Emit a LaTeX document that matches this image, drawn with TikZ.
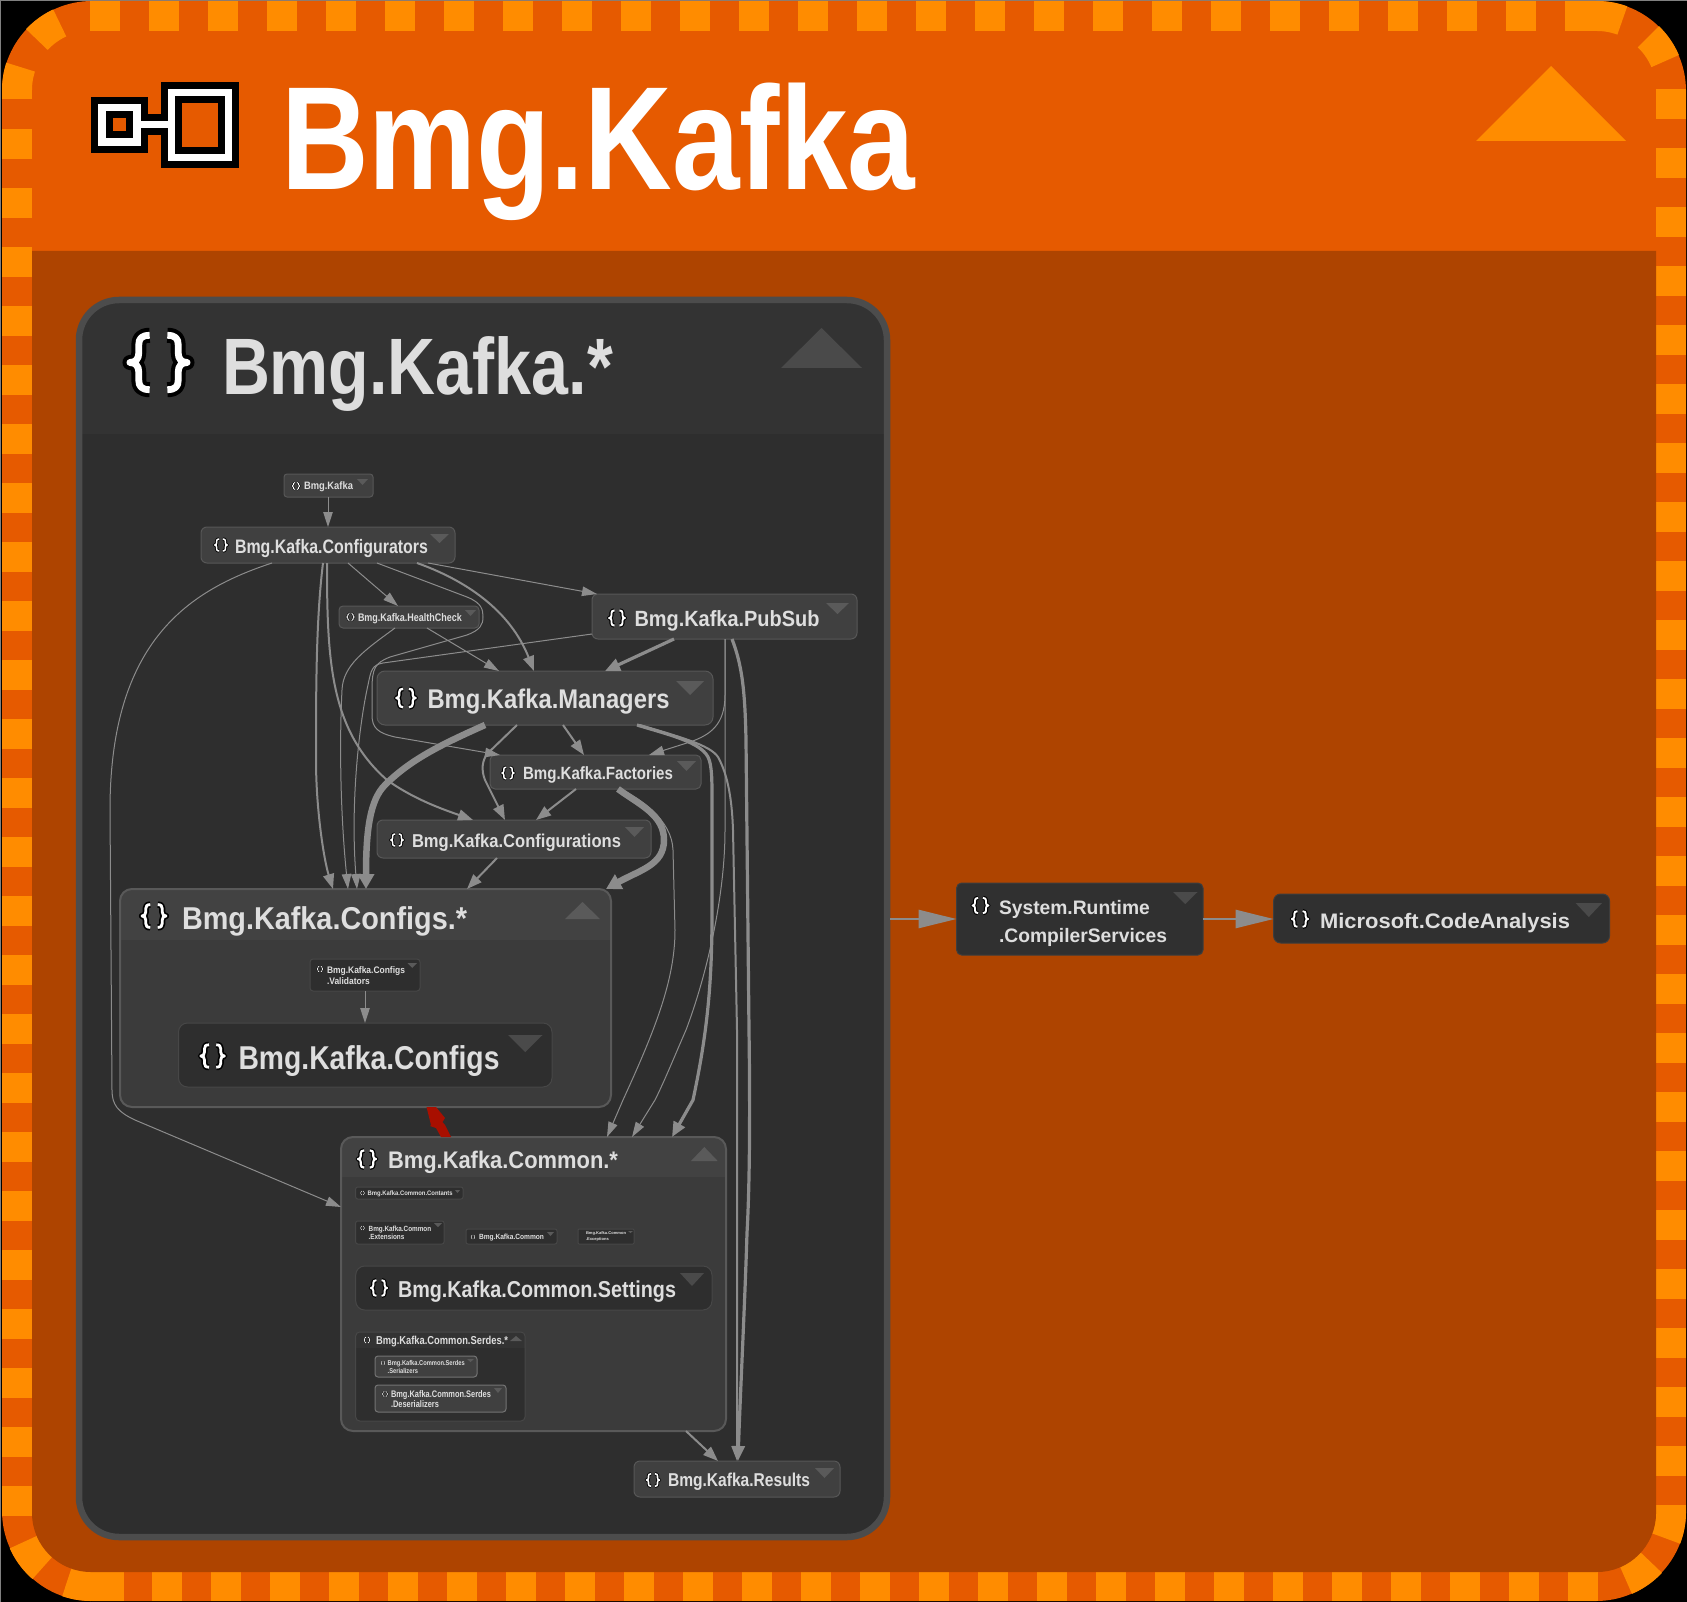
\documentclass[tikz,border=0pt]{standalone}
\usepackage{graphicx}
\usepackage{fontspec}
\setmainfont{Liberation Sans}
\usetikzlibrary{arrows.meta,calc}
\definecolor{orgA}{HTML}{E65A00}
\definecolor{orgB}{HTML}{FF8C00}
\definecolor{orgC}{HTML}{AE4400}
\definecolor{edge}{HTML}{8C8C8C}
\definecolor{lab}{HTML}{DEDEDE}
\definecolor{tri}{HTML}{5A5A5A}
\definecolor{triD}{HTML}{4A4A4A}
\definecolor{cyc}{HTML}{A80F00}
\tikzset{
  bxbase/.style={inner sep=0pt,outer sep=0pt,anchor=north west,rounded corners=5pt,line width=1pt},
  boxA/.style={bxbase,fill=black!75!white,draw=black!66!white},
  boxI/.style={bxbase,fill=black!82!white,draw=black!72!white},
  boxS/.style={bxbase,fill=black!75!white,draw=black!55!white},
  boxO/.style={bxbase,fill=black!81!white,draw=black!76!white},
  lbl/.style={inner sep=0pt,outer sep=0pt,anchor=base west,text=lab,font=\bfseries},
  e1/.style={color=edge,line width=1pt,-{Triangle[length=15pt,width=9.5pt]}},
  e2/.style={color=edge,line width=2pt,-{Triangle[length=15pt,width=11pt]}},
  e3/.style={color=edge,line width=3.2pt,-{Triangle[length=15pt,width=12.5pt]}},
  e5/.style={color=edge,line width=6.5pt,-{Triangle[length=15pt,width=16pt]}},
  eB/.style={color=edge,line width=2.5pt,-{Triangle[length=38pt,width=18pt]}},
  dashc/.style={draw=orgB,line width=30pt},
}
% box node
\newcommand\bx[6]{\node[#6,minimum width={#4-#2},minimum height={#5-#3}] (#1) at (#2,#3) {};}
% group: name,x1,y1,x2,y2,divider,radius,body,header
\newcommand\grp[9]{%
  \fill[#8,rounded corners=#7pt] (#2,#3) rectangle (#4,#5);
  \fill[#9] (#2,#6) [rounded corners=#7pt] -- (#2,#3) -- (#4,#3) [sharp corners] -- (#4,#6) -- cycle;
  \node[inner sep=0pt,outer sep=0pt,anchor=north west,rounded corners=#7pt,draw=grpb,line width=\grplw,minimum width={#4-#2},minimum height={#5-#3}] (#1) at (#2,#3) {};}
\newcommand\tl[6]{\node[lbl] (#1) at (#2,#3) {\resizebox{#4pt}{\height}{\fontsize{#5pt}{#5pt}\selectfont #6}};}
\newcommand\tll[8]{\node[lbl] (#1) at (#2,#3) {\resizebox{#4pt}{\height}{\fontsize{#5pt}{#6pt}\selectfont\begin{tabular}[t]{@{}l@{}}#7\\#8\end{tabular}}};}
\newcommand\tdn[5]{\fill[#5] (#1,#3) -- (#2,#3) -- ({(#1+#2)/2},#4) -- cycle;}
\newcommand\tup[5]{\fill[#5] (#1,#4) -- (#2,#4) -- ({(#1+#2)/2},#3) -- cycle;}
\newcommand\brcp{(-0.13,-0.40) .. controls (-0.25,-0.40) and (-0.29,-0.35) .. (-0.29,-0.26) -- (-0.29,-0.14) .. controls (-0.29,-0.05) and (-0.34,0) .. (-0.42,0) .. controls (-0.34,0) and (-0.29,0.05) .. (-0.29,0.14) -- (-0.29,0.26) .. controls (-0.29,0.35) and (-0.25,0.40) .. (-0.13,0.40)}
\newcommand\brc[3]{%
  \begin{scope}[shift={(#1,#2)},scale=#3,line join=round]
    \draw[black,line width=#3*0.22pt] \brcp;
    \draw[black,line width=#3*0.22pt,xscale=-1] \brcp;
    \draw[white,line width=#3*0.10pt] \brcp;
    \draw[white,line width=#3*0.10pt,xscale=-1] \brcp;
  \end{scope}}
\newcommand\arcd[5]{\draw[dashc] plot[domain=#3:#4,samples=16,smooth] ({#1+74*cos(\x)},{#2+74*sin(\x)});}
\newlength\grplw
\begin{document}
\begin{tikzpicture}[x=1pt,y=-1pt]
\useasboundingbox (0,0) rectangle (1687,1602);
\fill[black] (0,0) rectangle (1687,1602);
\fill[black!50!white] (0,0) rectangle (1687,1);
\fill[black!50!white] (0,0) rectangle (1,1602);
% frame
\fill[orgA,rounded corners=90pt] (2,1) rectangle (1686,1601);
\foreach \k in {0,...,24} {\fill[orgB] ({90+59*\k},1) rectangle ({120+59*\k},31);}
\foreach \k in {0,...,23} {\fill[orgB] (1656,{89+59*\k}) rectangle (1686,{119+59*\k});}
\foreach \k in {0,...,24} {\fill[orgB] ({1568-59*\k},1572) rectangle ({1598-59*\k},1601);}
\foreach \k in {0,...,23} {\fill[orgB] (2,{129+59*\k}) rectangle (32,{159+59*\k});}
\fill[orgB] (1565,1) rectangle (1597,31);
\fill[orgB] (1656,1505) rectangle (1686,1512);
\fill[orgB] (91,1572) rectangle (124,1601);
\fill[orgB] (2,90) rectangle (32,99);
\arcd{91}{90}{180}{198}{}
\arcd{91}{90}{223}{245}{}
\arcd{1597}{90}{270}{290}{}
\arcd{1597}{90}{314}{337}{}
\arcd{1597}{1512}{0}{21}{}
\arcd{1597}{1512}{43}{67}{}
\arcd{91}{1512}{90}{109}{}
\arcd{91}{1512}{131}{156}{}
% body
\fill[orgC] (32,251) [rounded corners=59pt] -- (32,1572) -- (1656,1572) [sharp corners] -- (1656,251) -- cycle;
% header triangle
\fill[orgB] (1476,141) -- (1626,141) -- (1551,66) -- cycle;
% package icon
\fill[black] (148,114) rectangle (161,135);
\fill[black] (91,97) rectangle (148,153);
\fill[white] (98,104) rectangle (141,146);
\fill[black] (106,111) rectangle (133,138);
\fill[orgA] (113,118) rectangle (126,131);
\fill[black] (161,82) rectangle (239,168);
\fill[white] (168,89) rectangle (232,161);
\fill[black] (175,96) rectangle (225,154);
\fill[orgA] (182,103) rectangle (218,147);
\fill[white] (141,121) rectangle (168,128);
\node[inner sep=0pt,anchor=base west,text=white,font=\bfseries] (title) at (281,190) {\resizebox{634pt}{\height}{\fontsize{147pt}{147pt}\selectfont Bmg.Kafka}};
% outer group
\colorlet{grpb}{black!70!white}
\setlength\grplw{6.5pt}
\fill[black!82!white,rounded corners=40pt] (79,300) rectangle (887,1537);
\fill[black!80!white] (79,434) [rounded corners=40pt] -- (79,300) -- (887,300) [sharp corners] -- (887,434) -- cycle;
\node[inner sep=0pt,outer sep=0pt,anchor=north west,rounded corners=40pt,draw=grpb,line width=\grplw,minimum width=808,minimum height=1237] (outer) at (79,300) {};
\brc{158.5}{362.5}{68}
\tl{outerT}{222}{395}{391}{80}{Bmg.Kafka.*}
\tup{781}{862}{328}{368}{triD}
% nodes
\bx{ns}{284}{474}{373}{497}{boxA,rounded corners=3pt}
\tl{nsT}{304}{489}{49}{10.7}{Bmg.Kafka}\brc{296}{486}{9}\tdn{357}{368}{479}{485}{tri}
\bx{cfg}{201}{527}{455}{563}{boxA,rounded corners=6pt}
\tl{cfgT}{235}{553}{193}{19.5}{Bmg.Kafka.Configurators}\brc{221}{545}{15}\tdn{430}{449}{534}{543}{tri}
\bx{hc}{339}{606}{479}{628}{boxA,rounded corners=4pt}
\tl{hcT}{358}{621}{104}{11}{Bmg.Kafka.HealthCheck}\brc{350.5}{617}{9}\tdn{465}{476}{610}{616}{tri}
\bx{pub}{592}{594}{857}{639}{boxA,rounded corners=6pt}
\tl{pubT}{634.5}{626}{185}{22}{Bmg.Kafka.PubSub}\brc{617}{618}{19}\tdn{826}{849}{603}{614}{tri}
\bx{mgr}{377}{671}{713}{725}{boxA,rounded corners=8pt}
\tl{mgrT}{427.5}{708}{242}{27}{Bmg.Kafka.Managers}\brc{406}{698}{23}\tdn{676}{704}{681}{695}{tri}
\bx{fac}{490}{755}{701}{789}{boxA,rounded corners=5pt}
\tl{facT}{523}{779}{150}{17.7}{Bmg.Kafka.Factories}\brc{508}{773}{14.5}\tdn{677}{696}{761}{771}{tri}
\bx{conf}{377}{820}{651}{858}{boxA,rounded corners=6pt}
\tl{confT}{412}{847}{209}{18.6}{Bmg.Kafka.Configurations}\brc{397}{840}{15}\tdn{625}{644}{827}{837}{tri}
\bx{res}{634}{1461}{840}{1497}{boxA,rounded corners=6pt}
\tl{resT}{668}{1486}{142}{18.6}{Bmg.Kafka.Results}\brc{653}{1480}{15.5}\tdn{815}{834}{1468}{1478}{tri}
% Configs.*
\colorlet{grpb}{black!65!white}
\setlength\grplw{2pt}
\grp{cstar}{120}{889}{611}{1107}{940}{12}{black!77!white}{black!74!white}
\tl{cstarT}{182}{929}{285}{31.6}{Bmg.Kafka.Configs.*}\brc{154}{916}{28.5}\tup{565}{600}{902}{919}{tri}
\bx{val}{310}{959}{420}{991}{boxI,rounded corners=3pt}
\tll{valT}{327}{973}{78}{9.5}{11}{Bmg.Kafka.Configs}{.Validators}\brc{320}{969}{7}\tdn{407.5}{417}{963}{968}{tri}
\bx{cfgs}{178.5}{1023}{552}{1087}{boxI,rounded corners=9pt}
\tl{cfgsT}{238.5}{1069}{261}{33}{Bmg.Kafka.Configs}\brc{212.6}{1056}{28}\tdn{508}{542.5}{1035}{1052}{triD}
% Common.*
\grp{cmn}{341}{1137}{726}{1431}{1177}{12}{black!77!white}{black!74!white}
\tl{cmnT}{388}{1168}{230}{24}{Bmg.Kafka.Common.*}\brc{367}{1159}{21.5}\tup{691}{717.7}{1147}{1161}{tri}
\bx{contants}{355.7}{1187}{463}{1199}{boxI,rounded corners=2pt}
\tl{contantsT}{367.7}{1195}{85}{6.5}{Bmg.Kafka.Common.Contants}\brc{362.5}{1193}{5}\tdn{455}{460}{1190}{1193}{tri}
\bx{ext}{355.7}{1221}{444}{1244}{boxI,rounded corners=2pt}
\tll{extT}{368.7}{1231}{62.5}{7.5}{8.5}{Bmg.Kafka.Common}{.Extensions}\brc{362.5}{1228}{5}\tdn{434}{442}{1223}{1227}{tri}
\bx{common}{466}{1229}{557}{1244}{boxI,rounded corners=2pt}
\tl{commonT}{479}{1239}{65}{7.5}{Bmg.Kafka.Common}\brc{473}{1237}{5}\tdn{547}{554}{1232}{1236}{tri}
\bx{exc}{578}{1229}{634}{1244}{boxI,rounded corners=1pt}
\tll{excT}{586}{1234}{40}{4}{6}{Bmg.Kafka.Common}{.Exceptions}\tdn{628}{633}{1231}{1233}{tri}
\bx{sett}{355.7}{1266}{712}{1310}{boxI,rounded corners=9pt}
\tl{settT}{398}{1297}{278}{23}{Bmg.Kafka.Common.Settings}\brc{379}{1288}{19.5}\tdn{680}{704}{1273}{1286}{triD}
% Serdes.*
\colorlet{grpb}{black!72!white}
\setlength\grplw{1pt}
\grp{serd}{355.7}{1332}{525}{1421}{1348}{4}{black!82!white}{black!80!white}
\tl{serdT}{376}{1344}{132}{11.5}{Bmg.Kafka.Common.Serdes.*}\brc{367}{1340}{7.5}\tup{510}{522}{1336}{1341}{tri}
\bx{ser}{375}{1356}{477}{1377}{boxS,rounded corners=3pt}
\tll{serT}{387.7}{1365}{77}{7}{8}{Bmg.Kafka.Common.Serdes}{.Serializers}\brc{383}{1363}{5}\tdn{467}{474}{1359}{1362}{tri}
\bx{des}{375}{1385}{506}{1412}{boxS,rounded corners=3pt}
\tll{desT}{391}{1397}{100}{9.5}{10}{Bmg.Kafka.Common.Serdes}{.Deserializers}\brc{385}{1394}{6.5}\tdn{494}{502}{1388}{1393}{tri}
% external
\bx{sysrt}{956.6}{883}{1203}{955}{boxO,rounded corners=5pt}
\tll{sysrtT}{999}{914}{168}{19.5}{28}{System.Runtime}{.CompilerServices}\brc{980.5}{905.5}{19}\tdn{1173}{1197.5}{892}{904}{triD}
\bx{ms}{1273.6}{894}{1609.5}{943}{boxO,rounded corners=7pt}
\tl{msT}{1320}{928}{250}{21}{Microsoft.CodeAnalysis}\brc{1300}{919}{19.5}\tdn{1575.6}{1602}{903}{917}{triD}
% connectors
\draw[e1] (328,0 |- ns.south) -- (328,0 |- cfg.north);
\draw[e1] (272,0 |- cfg.south) .. controls (190,590) and (110,640) .. (110,810) -- (112,1090) .. controls (112,1105) and (118,1112) .. (135,1120) -- (cmn.west |- 0,1207);
\draw[e2] (323,0 |- cfg.south) .. controls (316,620) and (316,690) .. (316,760) .. controls (316,810) and (324,860) .. (333,0 |- cstar.north);
\draw[e2] (327,0 |- cfg.south) .. controls (327,660) and (330,730) .. (387,780) .. controls (415,800) and (445,810) .. (473,0 |- conf.north);
\draw[e1] (348,0 |- cfg.south) -- (398,0 |- hc.north);
\draw[e1] (377,0 |- cfg.south) -- (467,597) .. controls (482,603) and (483,610) .. (483,617) .. controls (483,625) and (480,630) .. (467,635) -- (390,657) .. controls (375,663) and (372,668) .. (372,690) -- (372,715) .. controls (372,728) and (378,733) .. (395,737) -- (500,0 |- fac.north);
\draw[e2] (417,0 |- cfg.south) .. controls (465,580) and (510,610) .. (534,0 |- mgr.north);
\draw[e1] (428,0 |- cfg.south) -- (597,0 |- pub.north);
\draw[e1] (395,0 |- hc.south) .. controls (365,650) and (343,665) .. (342,690) .. controls (339,750) and (341,820) .. (348,0 |- cstar.north);
\draw[e1] (427,0 |- hc.south) -- (499,0 |- mgr.north);
\draw[e1] (pub.west |- 0,634) -- (383,663) .. controls (372,665) and (371,670) .. (368,685) .. controls (360,720) and (350,800) .. (357,0 |- cstar.north);
\draw[e3] (674,0 |- pub.south) -- (605,0 |- mgr.north);
\draw[e1] (725,0 |- pub.south) -- (725,695) .. controls (725,725) and (710,735) .. (690,742) -- (649,0 |- fac.north);
\draw[e1] (725,0 |- pub.south) -- (725,830) .. controls (725,900) and (705,980) .. (686,1030) .. controls (675,1055) and (665,1080) .. (655,1100) -- (632,0 |- cmn.north);
\draw[e3] (732,0 |- pub.south) .. controls (742,665) and (745,690) .. (746,740) -- (749,1030) .. controls (750,1100) and (750,1180) .. (747,1233) .. controls (745,1300) and (740,1400) .. (738,0 |- res.north);
\draw[e5] (485,0 |- mgr.south) .. controls (440,745) and (410,760) .. (385,785) .. controls (370,800) and (366,830) .. (366,0 |- cstar.north);
\draw[e2] (517,0 |- mgr.south) -- (488,753) .. controls (482,760) and (481,770) .. (485,780) -- (505,0 |- conf.north);
\draw[e2] (563,0 |- mgr.south) -- (584,0 |- fac.north);
\draw[e3] (637,0 |- mgr.south) .. controls (670,735) and (700,742) .. (708,757) .. controls (712,765) and (712,780) .. (712,800) -- (712,913) .. controls (712,980) and (708,1030) .. (693,1100) -- (672,0 |- cmn.north);
\draw[e2] (640,0 |- mgr.south) .. controls (680,737) and (710,745) .. (718,757) .. controls (728,775) and (732,800) .. (733,830) -- (737,1030) -- (737,0 |- res.north);
\draw[e5] (618,0 |- fac.south) .. controls (640,805) and (664,815) .. (664,840) .. controls (664,865) and (640,870) .. (606,0 |- cstar.north);
\draw[e1] (620,0 |- fac.south) .. controls (640,798) and (672,820) .. (673,850) -- (675,930) .. controls (675,980) and (655,1030) .. (623,1100) -- (607,0 |- cmn.north);
\draw[e2] (576,0 |- fac.south) -- (536,0 |- conf.north);
\draw[e2] (497,0 |- conf.south) -- (467,0 |- cstar.north);
\draw[e2] (686,0 |- cmn.south) -- (718,0 |- res.north);
\draw[e1] (365,0 |- val.south) -- (365,0 |- cfgs.north);
\draw[eB] ([xshift=3.25pt]outer.east |- 0,919) -- (sysrt.west |- 0,919);
\draw[eB] (sysrt.east |- 0,919) -- (ms.west |- 0,919);
% cycle between Configs.* and Common.*
\fill[cyc] (426.5,0 |- cstar.south) -- (436,0 |- cstar.south) -- (445,1118) -- (442.5,1122) -- (445,1125) -- (451,0 |- cmn.north) -- (441,0 |- cmn.north) -- (436,1128) -- (430,1126) -- (431,1125) -- cycle;
\end{tikzpicture}
\end{document}
